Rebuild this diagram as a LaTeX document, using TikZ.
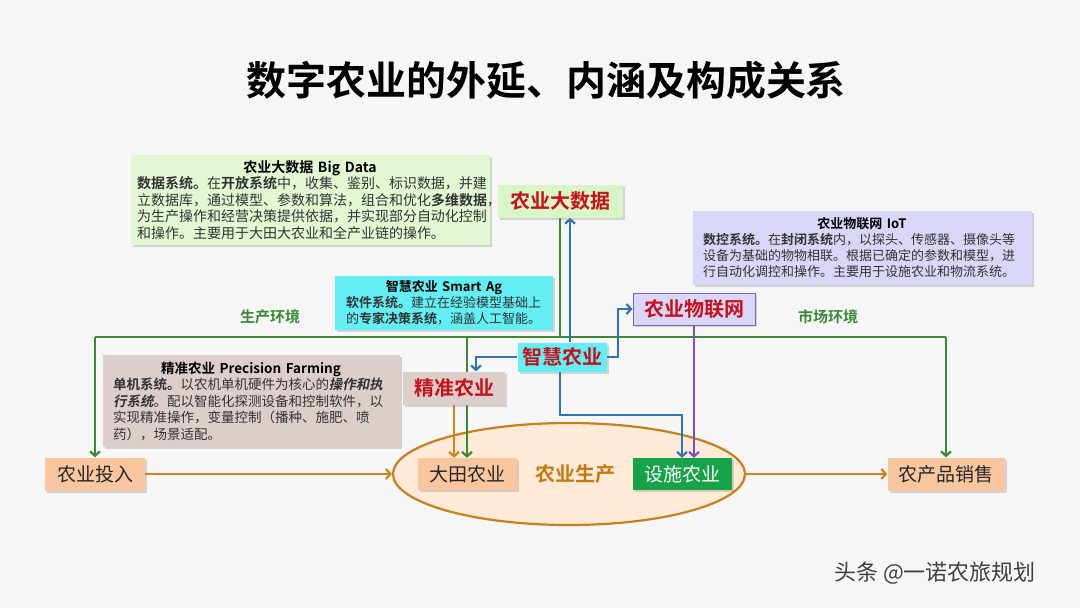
\documentclass[tikz,border=0pt]{standalone}
\usepackage{fontspec}
\setmainfont{Noto Sans CJK SC}[BoldFont={Noto Sans CJK SC Bold},
  ItalicFont={Noto Sans CJK SC}, ItalicFeatures={FakeSlant=0.2},
  BoldItalicFont={Noto Sans CJK SC Bold}, BoldItalicFeatures={FakeSlant=0.2}]
\usepackage{tikz}
\usetikzlibrary{positioning, shapes, arrows.meta, shadows, calc}

\definecolor{bgcol}{HTML}{F6F6F6}
\definecolor{bdfill}{HTML}{E3F7D3}
\definecolor{bdtag}{HTML}{D8F5C6}
\definecolor{iotfill}{HTML}{D9D7F8}
\definecolor{iotedge}{HTML}{8060C0}
\definecolor{smfill}{HTML}{62EEF3}
\definecolor{prfill}{HTML}{DCCFCB}
\definecolor{tagred}{HTML}{C8101A}
\definecolor{envgreen}{HTML}{3A8A35}
\definecolor{lnkblue}{HTML}{2E75B6}
\definecolor{lnkpurple}{HTML}{7E4FC0}
\definecolor{lnkorange}{HTML}{D2831E}
\definecolor{peach}{HTML}{F8C7A0}
\definecolor{facgreen}{HTML}{17A34A}
\definecolor{ellfill}{HTML}{FDEBD8}
\definecolor{elledge}{HTML}{C8801E}
\definecolor{prodtext}{HTML}{C77A12}
\definecolor{txtgray}{HTML}{333333}

\pgfdeclarelayer{back}
\pgfdeclarelayer{links}
\pgfsetlayers{back,links,main}

\begin{document}
\begin{tikzpicture}[x=1pt, y=-1pt, >={Straight Barb[length=4.5pt,width=10pt]},
  shade/.style={drop shadow={opacity=0.3, shadow xshift=2pt, shadow yshift=-2pt}},
  infobox/.style={rectangle, inner sep=0pt, shade, text=txtgray,
    font=\fontsize{14}{16.5}\selectfont},
  tag/.style={rectangle, inner sep=0pt, minimum height=32pt, shade, text=tagred,
    font=\fontsize{20}{24}\selectfont\bfseries},
  flowbox/.style={rectangle, inner sep=0pt, minimum height=33pt, shade,
    font=\fontsize{19}{23}\selectfont},
  envlabel/.style={text=envgreen, font=\fontsize{15}{18}\selectfont\bfseries},
  envline/.style={draw=envgreen, line width=2.2pt},
  blueline/.style={draw=lnkblue, line width=2.2pt},
  purpleline/.style={draw=lnkpurple, line width=2.2pt},
  orangeline/.style={draw=lnkorange, line width=2.2pt}]

  \begin{pgfonlayer}{back}
    \fill[bgcol] (0,0) rectangle (1080,608);
    \node[ellipse, draw=elledge, fill=ellfill, line width=2.2pt, inner sep=0pt,
      minimum width=352pt, minimum height=102pt] (prod) at (569,474) {};
  \end{pgfonlayer}
  \useasboundingbox (0,0) rectangle (1080,608);

  \node[font=\fontsize{40}{48}\selectfont\bfseries] (title) at (546,80) {数字农业的外延、内涵及构成关系};

  % description boxes
  \node[infobox, fill=bdfill, minimum width=359pt, minimum height=90pt, text width=346pt] (bdinfo) at (310,200)
    {{\centering\bfseries\color{black}农业大数据 Big Data\par}%
     \textbf{数据系统。}在\textbf{开放系统}中，收集、鉴别、标识数据，并建\\
     立数据库，通过模型、参数和算法，组合和优化\textbf{多维数据}，\\
     为生产操作和经营决策提供依据，并实现部分自动化控制\\
     和操作。主要用于大田大农业和全产业链的操作。};
  \node[infobox, fill=iotfill, minimum width=339pt, minimum height=74pt, text width=318pt,
    font=\fontsize{13}{16}\selectfont] (iotinfo) at (862,248)
    {{\centering\bfseries\color{black}农业物联网 IoT\par}%
     \textbf{数控系统。}在\textbf{封闭系统}内，以探头、传感器、摄像头等\\
     设备为基础的物物相联。根据已确定的参数和模型，进\\
     行自动化调控和操作。主要用于设施农业和物流系统。};
  \node[infobox, fill=smfill, minimum width=218pt, minimum height=54pt, text width=196pt,
    font=\fontsize{13}{16}\selectfont] (sminfo) at (444,303)
    {{\centering\bfseries\color{black}智慧农业 Smart Ag\par}%
     \textbf{软件系统。}建立在经验模型基础上\\
     的\textbf{专家决策系统}，涵盖人工智能。};
  \node[infobox, fill=prfill, minimum width=297pt, minimum height=92pt, text width=276pt,
    font=\fontsize{13.5}{16.5}\selectfont] (prinfo) at (251,401)
    {{\centering\bfseries\color{black}精准农业 Precision Farming\par}%
     \textbf{单机系统。}以农机单机硬件为核心的\textbf{\textit{操作和执}}\\
     \textbf{\textit{行系统}}。配以智能化探测设备和控制软件，以\\
     实现精准操作，变量控制（播种、施肥、喷\\
     药），场景适配。};

  % system tags
  \node[tag, fill=bdtag, minimum width=125pt, minimum height=33pt] (bigdata) at (560,201) {农业大数据};
  \node[tag, fill=iotfill, draw=iotedge, line width=1pt, minimum width=122pt] (iot) at (694,309) {农业物联网};
  \node[tag, fill=smfill, minimum width=89pt, minimum height=29pt] (smart) at (562,357) {智慧农业};
  \node[tag, fill=prfill, minimum width=102pt, minimum height=33pt] (prec) at (454,388) {精准农业};

  % production chain
  \node[flowbox, fill=peach, minimum width=100pt, text=black!85] (input) at (95,474) {农业投入};
  \node[flowbox, fill=peach, minimum width=99pt, minimum height=32pt, text=black!85] (field) at (467,474) {大田农业};
  \node[flowbox, fill=facgreen, minimum width=99pt, minimum height=32pt, text=white] (facility) at (682,474) {设施农业};
  \node[flowbox, fill=peach, minimum width=117pt, text=black!85] (sales) at (946,474) {农产品销售};
  \node[text=prodtext, font=\fontsize{20}{24}\selectfont\bfseries] (prodlabel) at (575,474) {农业生产};

  \node[envlabel] (prodenv) at (270,317) {生产环境};
  \node[envlabel] (mktenv) at (828,317) {市场环境};
  \node[text=black!75, font=\fontsize{22}{26}\selectfont] (credit) at (935,573) {头条 @一诺农旅规划};

  \coordinate (envL) at (95,337);

  \begin{pgfonlayer}{links}
    % environment
    \draw[envline] (bigdata.south) -- (bigdata.south |- envL);
    \draw[envline] (envL) -- (sales.north |- envL);
    \draw[envline,->] (envL) -- (input.north);
    \draw[envline,->] (sales.north |- envL) -- (sales.north);
    \draw[envline,->] (field.north |- envL) -- (field.north);
    % smart agriculture links
    \draw[blueline,->] ([xshift=8pt]smart.north) -- ([xshift=8pt]smart.north |- bigdata.south);
    \draw[blueline,->] (smart.east) -- ++(11,0) |- (iot.west);
    \draw[blueline,->] (smart.west) -| ([xshift=22pt]prec.north);
    \draw[blueline,->] ([xshift=-2pt]smart.south) -- ++(0,43) -| (facility.north);
    \draw[purpleline,->] (iot.south) -- (iot.south |- facility.north);
    % production flow
    \draw[orangeline,->] ([xshift=-13pt]field.north |- prec.south) -- ([xshift=-13pt]field.north);
    \draw[orangeline,->] (input) -- (prod.west);
    \draw[orangeline,->] (prod.east) -- (sales);
  \end{pgfonlayer}
\end{tikzpicture}
\end{document}
